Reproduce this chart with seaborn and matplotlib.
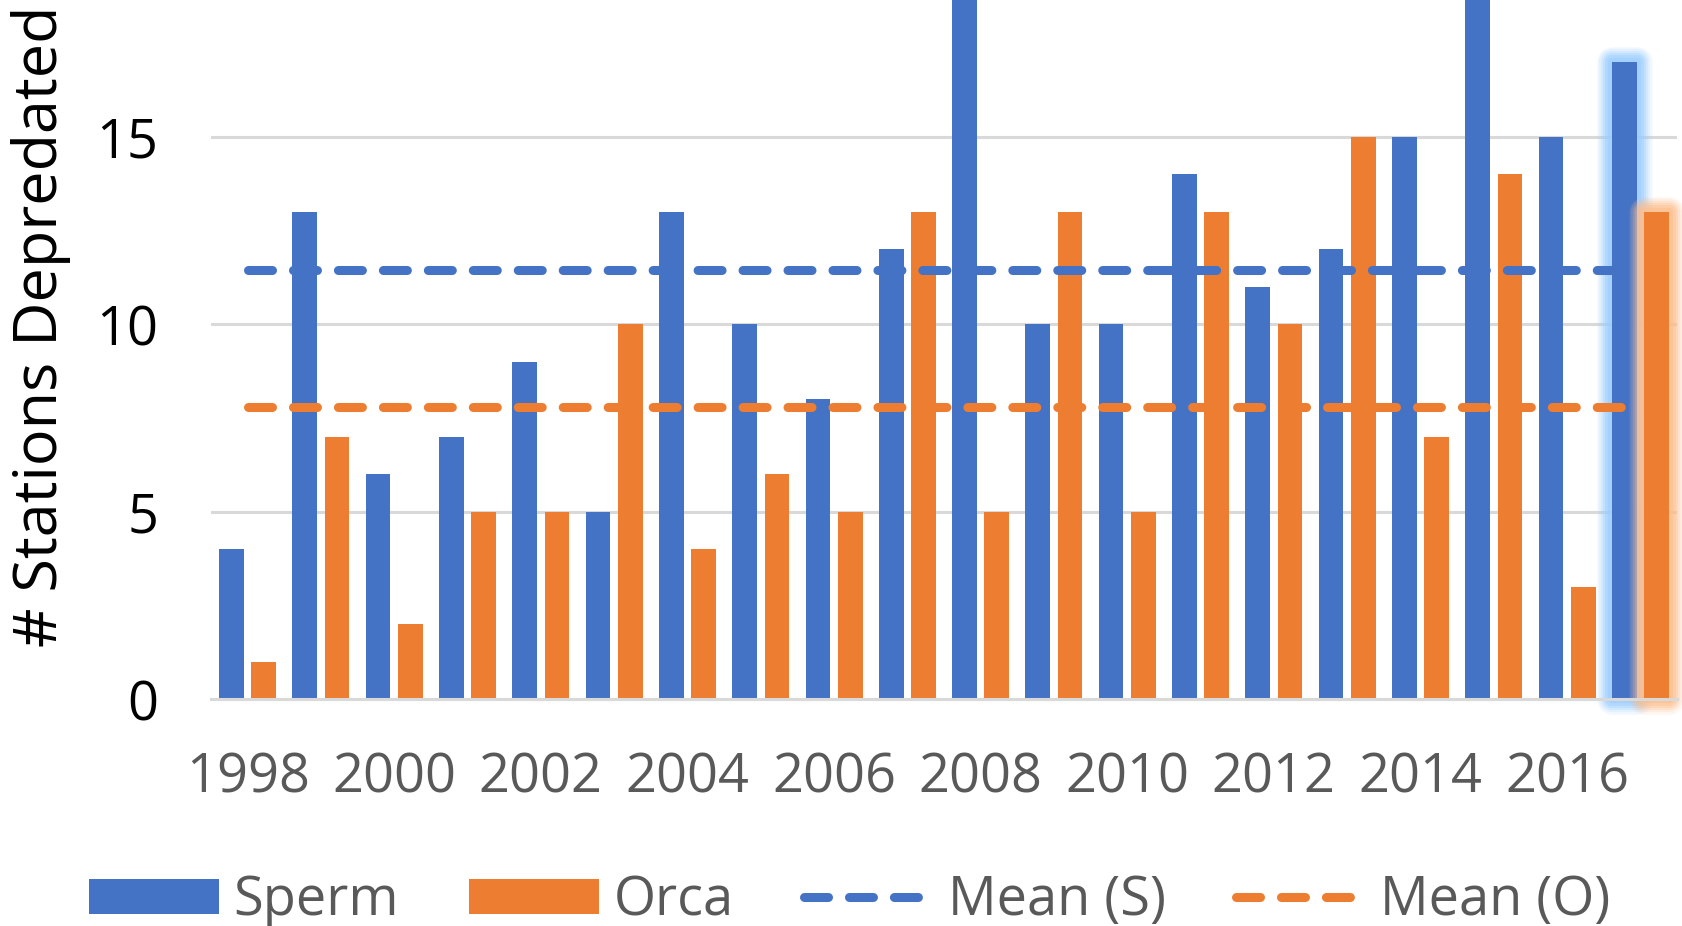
import numpy as np
import pandas as pd
import matplotlib
matplotlib.use("Agg")
import matplotlib.pyplot as plt
import seaborn as sns
from matplotlib import patheffects as pe
from matplotlib.lines import Line2D
from matplotlib.patches import Patch

# Depredated stations per year, by whale species
years = list(range(1998, 2018))
sperm = [4, 13, 6, 7, 9, 5, 13, 10, 8, 12, 19, 10, 10, 14, 11, 12, 15, 19, 15, 17]
orca = [1, 7, 2, 5, 5, 10, 4, 6, 5, 13, 5, 13, 5, 13, 10, 15, 7, 14, 3, 13]
series = ["Sperm", "Orca"]
mean_labels = ["Mean (S)", "Mean (O)"]
colors = ["#4472C4", "#ED7D31"]
glow_colors = ["#9ACDFF", "#FDBE8C"]
yticks = [0, 5, 10, 15]
xtick_years = years[::2]

sns.set_theme(style="white")
plt.rcParams["font.family"] = ["Open Sans", "DejaVu Sans"]

df = pd.DataFrame({
    "Year": years * 2,
    "Stations": sperm + orca,
    "Species": [series[0]] * len(years) + [series[1]] * len(years),
})

W, H = 1682, 926
fig = plt.figure(figsize=(W / 100, H / 100), dpi=100)
ax_left, ax_right, ax_bottom = 211, 1677, 699.4
ax = fig.add_axes([ax_left / W, 1 - ax_bottom / H, (ax_right - ax_left) / W, ax_bottom / H])

sns.barplot(
    data=df, x="Year", y="Stations", hue="Species", hue_order=series,
    palette=colors, saturation=1, width=0.88, gap=0.234,
    linewidth=0, legend=False, ax=ax, zorder=2,
)

# Overall means as dashed reference lines across all years
dash = (0, (2.66, 2.32))
pos = np.arange(len(years))
for vals, col in zip([sperm, orca], colors):
    m = float(np.mean(vals))
    sns.lineplot(x=pos, y=np.full(len(years), m), ax=ax, color=col, lw=6.5,
                 linestyle=dash, zorder=4)
    ax.lines[-1].set_dash_capstyle("round")

# Soft glow around the latest year's bars
for p in ax.patches:
    cx = p.get_x() + p.get_width() / 2
    if cx > len(years) - 1.5 and p.get_height() > 0:
        fc = matplotlib.colors.to_hex(p.get_facecolor())
        idx = 0 if fc.lower() == colors[0].lower() else 1
        g = glow_colors[idx]
        effects = []
        for lw, a in [(22, 0.12), (19, 0.16), (16, 0.22), (13, 0.3), (10, 0.4), (6, 0.55)]:
            effects.append(pe.Stroke(linewidth=lw, foreground=g, alpha=a, joinstyle="round"))
        effects.append(pe.Normal())
        p.set_path_effects(effects)
        p.set_clip_on(False)

ax.set_xlim(-0.5, len(years) - 0.5)
ax.set_ylim(0, 18.64)
ax.set_yticks(yticks)
ax.set_yticklabels([str(t) for t in yticks])
ax.set_xticks([years.index(y) for y in xtick_years])
ax.set_xticklabels([str(y) for y in xtick_years])
ax.tick_params(axis="y", length=0, pad=38, labelsize=39, labelcolor="#000000")
ax.tick_params(axis="x", length=0, pad=37, labelsize=39, labelcolor="#595959")
ax.yaxis.grid(True, color="#D9D9D9", lw=2.2)
ax.set_axisbelow(True)
for s in ["top", "right", "left"]:
    ax.spines[s].set_visible(False)
ax.spines["bottom"].set_color("#D9D9D9")
ax.spines["bottom"].set_linewidth(2.2)
ax.set_xlabel("")
ax.set_ylabel("")

fig.text(41 / W, 1 - 326 / H, "# Stations Depredated", rotation=90,
         ha="center", va="center", fontsize=44, color="#000000")

handles = [
    Patch(facecolor=colors[0], edgecolor="none"),
    Patch(facecolor=colors[1], edgecolor="none"),
    Line2D([], [], color=colors[0], lw=6.5, linestyle=dash, dash_capstyle="round"),
    Line2D([], [], color=colors[1], lw=6.5, linestyle=dash, dash_capstyle="round"),
]
fig.legend(handles, series + mean_labels, loc="center",
           bbox_to_anchor=(850 / W, 1 - 901 / H), ncol=4, frameon=False,
           fontsize=39, handlelength=2.4, handleheight=0.63, handletextpad=0.26,
           columnspacing=1.3, labelcolor="#595959", borderpad=0)

fig.savefig("out.png", dpi=100)
